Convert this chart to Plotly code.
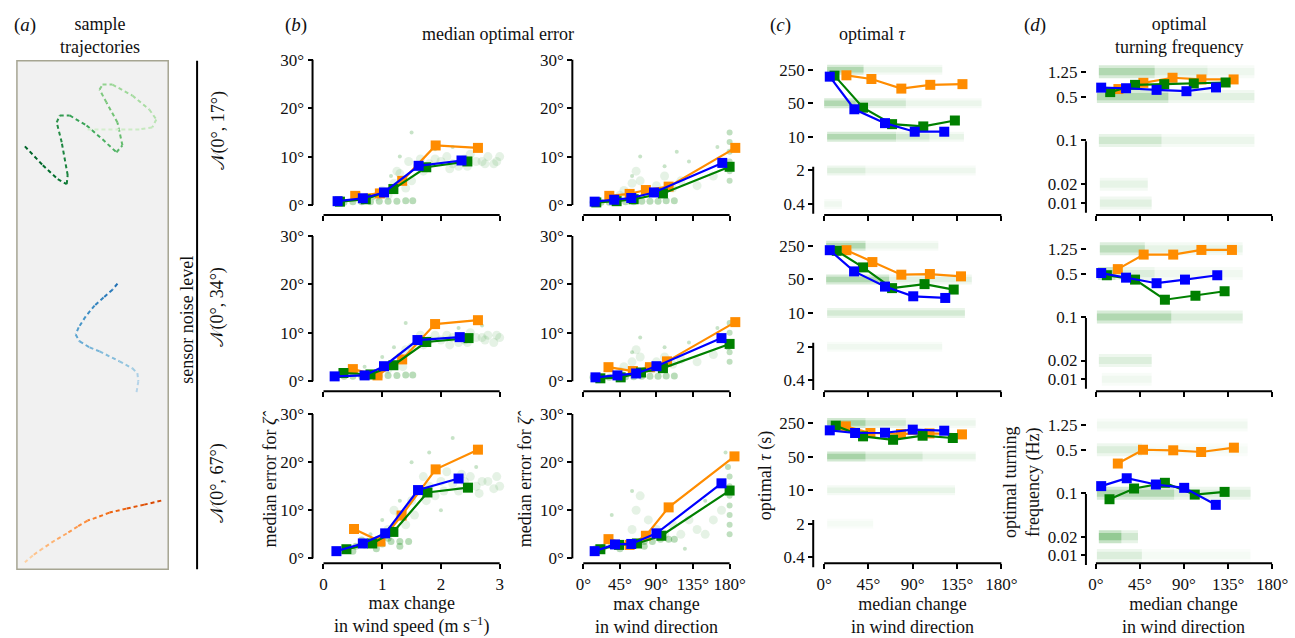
import math
import plotly.graph_objects as go
import plotly.colors as pc

W, H = 1295, 638
FONT = "Liberation Serif"
TXT = "#111111"
ORANGE, GREEN, BLUE = "#ff8c00", "#008000", "#0000ff"

# ---------------- data ----------------
# (b) left column: max change in wind speed (m/s) -> median error (deg); one list per noise row
speed_orange_x = [[0.54, 0.96, 1.34, 1.91, 2.63], [0.50, 0.92, 1.34, 1.90, 2.63], [0.52, 0.97, 1.33, 1.91, 2.63]]
speed_orange_y = [[1.9, 2.4, 5.0, 12.3, 11.8], [2.5, 1.2, 4.5, 11.8, 12.6], [6.1, 3.5, 8.9, 18.5, 22.6]]
speed_green_x = [[0.28, 0.72, 1.19, 1.75, 2.45], [0.34, 0.80, 1.19, 1.75, 2.47], [0.39, 0.83, 1.19, 1.77, 2.46]]
speed_green_y = [[0.7, 1.2, 3.3, 7.8, 9.0], [1.7, 1.4, 3.3, 8.1, 8.9], [1.9, 3.1, 5.5, 13.7, 14.7]]
speed_blue_x = [[0.24, 0.67, 1.03, 1.62, 2.35], [0.19, 0.70, 1.03, 1.60, 2.32], [0.22, 0.67, 1.05, 1.61, 2.30]]
speed_blue_y = [[0.8, 1.4, 2.6, 8.1, 9.2], [1.0, 1.2, 3.1, 8.5, 9.1], [1.5, 3.1, 5.2, 14.2, 16.6]]

# (b) right column: max change in wind direction (deg) -> median error (deg)
dir_orange_x = [[32, 57, 77, 105, 187], [31, 61, 82, 103, 187], [31, 57, 77, 105, 186]]
dir_orange_y = [[1.9, 2.3, 3.1, 3.8, 11.8], [2.9, 2.1, 2.9, 4.1, 12.2], [4.0, 2.8, 4.7, 10.6, 21.2]]
dir_green_x = [[16, 41, 62, 98, 180], [21, 46, 71, 98, 180], [21, 44, 66, 96, 180]]
dir_green_y = [[0.55, 0.8, 1.2, 2.4, 7.9], [0.6, 0.8, 1.8, 2.7, 7.7], [1.9, 2.8, 3.1, 4.7, 14.1]]
dir_blue_x = [[14, 38, 59, 87, 171], [15, 42, 65, 90, 170], [14, 39, 59, 90, 170]]
dir_blue_y = [[0.7, 1.1, 1.45, 2.6, 8.7], [0.8, 1.2, 1.6, 3.1, 8.9], [1.5, 2.9, 3.0, 5.2, 15.6]]

# (c) median change in wind direction (deg) -> optimal tau (s)
tau_orange_x = [[22.6, 48, 78.4, 107.8, 140.5], [22.6, 49, 78.4, 107.4, 139], [22, 47, 78, 107, 140]]
tau_orange_y = [[191, 160, 101, 121, 125], [203, 115, 62.8, 64.8, 58], [213, 155, 148, 152, 145]]
tau_green_x = [[10.5, 39.5, 69, 100.7, 132.8], [12.8, 39.5, 69, 102, 131.6], [11.8, 39.5, 70, 100, 130.7]]
tau_green_y = [[188, 40.5, 18.4, 16.5, 21.9], [197, 89, 33, 40, 30.8], [220, 132, 112, 136, 122]]
tau_blue_x = [[5.7, 30.7, 61.8, 92, 122], [5.7, 30.4, 61.8, 90.5, 123], [5.7, 31.4, 61.8, 90, 122]]
tau_blue_y = [[179, 37.5, 19.3, 12.8, 12.8], [203, 73.5, 35.5, 22.3, 20.6], [176, 155, 157, 182, 173]]

# (d) median change in wind direction (deg) -> optimal turning frequency (Hz)
freq_orange_x = [[23, 48.5, 78.3, 107.8, 140.7], [22.4, 48.8, 79, 107.8, 139], [22.4, 48.1, 79, 107.5, 141]]
freq_orange_y = [[0.66, 0.83, 1.0, 0.94, 0.94], [0.59, 1.01, 1.01, 1.2, 1.2], [0.30, 0.50, 0.49, 0.46, 0.54]]
freq_green_x = [[14.6, 40, 69.8, 100, 132.5], [11.2, 40, 70.5, 101.7, 131.5], [13.9, 39, 70.5, 101, 131.5]]
freq_green_y = [[0.59, 0.77, 0.79, 0.81, 0.84], [0.47, 0.40, 0.19, 0.22, 0.26], [0.080, 0.119, 0.147, 0.095, 0.105]]
freq_blue_x = [[5.4, 30.8, 62, 92.5, 122.7], [5.4, 30.8, 62, 91, 124], [5.4, 31.5, 61.3, 90.2, 122.5]]
freq_blue_y = [[0.695, 0.68, 0.64, 0.61, 0.70], [0.51, 0.43, 0.35, 0.40, 0.47], [0.13, 0.174, 0.138, 0.122, 0.065]]

# green clouds of individual runs in (b), read approximately: groups of (x, y)
speed_cloud = [
    {"dense": ([0.35, 0.5, 0.65, 0.8, 0.95, 1.1, 1.25, 1.4, 1.52], [0.6, 0.7, 0.7, 0.7, 0.8, 0.8, 0.8, 0.9, 0.9]),
     "diffuse": ([1.0, 1.1, 1.2, 1.3, 1.4, 1.5, 0.9, 1.25, 1.45, 1.6, 1.8, 2.0, 2.2, 2.4, 2.6, 2.8, 3.0, 1.7, 2.5, 2.9, 2.1, 2.3, 2.7,
                  1.9, 2.15, 2.45, 2.75, 2.95, 1.65, 1.35],
                 [3, 2, 4.5, 6.5, 3.5, 5, 1.8, 7, 9, 8, 8.5, 9, 8.5, 9.5, 9, 10, 10, 7, 10.5, 8.5, 10, 8, 9,
                  9.5, 7.5, 8, 8.5, 9, 9.5, 5]),
     "sparse": ([1.5, 1.3, 2.2, 0.6, 1.9, 1.15, 2.6, 0.85], [15, 10, 12, 2.5, 11.5, 6, 12, 1.5])},
    {"dense": ([0.35, 0.5, 0.65, 0.8, 0.95, 1.1, 1.25, 1.4, 1.52], [1.0, 1.0, 1.0, 1.1, 1.1, 1.2, 1.2, 1.3, 1.3]),
     "diffuse": ([1.1, 1.2, 1.3, 1.4, 1.5, 1.6, 1.8, 2.0, 2.2, 2.4, 2.6, 2.8, 3.0, 1.7, 2.5, 2.9, 2.1, 2.3, 2.7, 1.35,
                  1.9, 2.15, 2.45, 2.75, 2.95, 1.65],
                 [2.5, 3.5, 5, 6.5, 7, 8, 8.5, 8.5, 9, 8.5, 9, 9.5, 9, 7.5, 10, 8, 9.5, 8, 9, 3,
                  9.5, 7.5, 8, 8.5, 9.5, 9.5]),
     "sparse": ([1.4, 1.0, 2.3, 0.7, 1.2, 2.7], [12, 5, 11, 3, 7, 11.5])},
    {"dense": ([0.4, 0.55, 0.7, 0.85, 1.0, 1.15, 1.3, 1.45, 0.5, 0.9, 1.3, 0.65, 1.1],
               [2, 2.5, 2.8, 3, 3, 3.5, 3.5, 3.5, 1.5, 2, 2.5, 3.8, 4.2]),
     "diffuse": ([1.1, 1.3, 1.5, 1.6, 1.8, 2.0, 2.2, 2.4, 2.6, 2.8, 3.0, 1.7, 1.9, 2.1, 2.3, 2.5, 2.7, 2.9, 1.4, 1.2,
                  1.75, 2.05, 2.35, 2.65, 2.95, 1.55],
                 [6, 9, 12, 14, 15, 16, 15.5, 16, 15, 16, 15, 17, 13, 18, 14, 17, 16, 14.5, 7, 10,
                  12, 14, 17.5, 13.5, 17, 9]),
     "sparse": ([1.0, 1.5, 2.2, 2.0, 1.8, 0.8, 2.6, 1.3], [8, 20, 25, 10, 22, 5, 19, 12])},
]
dir_cloud = [
    {"dense": ([12, 22, 32, 42, 52, 62, 72, 82, 92, 102, 112], [0.6, 0.6, 0.6, 0.7, 0.7, 0.7, 0.8, 0.8, 0.8, 0.9, 0.9]),
     "diffuse": ([50, 60, 70, 80, 90, 100, 110, 120, 140, 160, 65, 85, 45, 95], [3, 4.5, 5, 3, 4, 6, 3.5, 5, 4, 6, 7, 2.5, 2, 2.5]),
     "column": ([180, 180, 180, 180, 180, 178, 180], [5, 7, 9, 11, 13, 8, 15]),
     "sparse": ([70, 130, 165, 60, 100, 115], [10, 9, 12, 6, 8, 11])},
    {"dense": ([12, 22, 32, 42, 52, 62, 72, 82, 92, 102, 112], [0.8, 0.8, 0.8, 0.9, 0.9, 0.9, 1.0, 1.0, 1.0, 1.1, 1.1]),
     "diffuse": ([50, 60, 70, 80, 90, 100, 110, 120, 140, 160, 65, 85, 45, 95], [3, 4, 5, 3, 4, 5, 3.5, 4.5, 4, 5.5, 6.5, 2.5, 2, 2.5]),
     "column": ([180, 180, 180, 180, 180, 178], [4, 6, 8, 10, 12, 7]),
     "sparse": ([70, 130, 165, 60, 100], [9, 8, 11, 6, 7])},
    {"dense": ([15, 25, 35, 45, 55, 65, 75, 85, 95, 105, 112, 45, 75],
               [2, 2.3, 2.6, 3, 3, 3.3, 3.5, 3.5, 4, 4, 4, 2, 2.5]),
     "diffuse": ([60, 65, 70, 80, 90, 110, 120, 140, 160, 170, 100, 130, 150], [6, 10, 13, 8, 6, 7, 5, 6, 8, 10, 5, 8, 5]),
     "column": ([180, 180, 180, 180, 180, 180, 180, 178], [5, 7, 9, 11, 13, 15, 17, 19]),
     "sparse": ([60, 150, 35, 125, 175], [14, 12, 9, 2, 22])},
]
CLOUD_STYLE = {"dense": (7, 0.28), "diffuse": (9, 0.10), "column": (6, 0.25), "sparse": (4, 0.22)}

# green bands of individual runs in (c) and (d): (level, x from, x to, density)
tau_bands = [
    [(250, 3, 40, .35), (250, 40, 120, .10), (50, 0, 32, .35), (50, 32, 83, .20), (50, 83, 160, .08),
     (10, 3, 73, .35), (10, 73, 107, .20), (10, 107, 142, .10), (2, 3, 42, .15), (2, 42, 154, .07), (0.4, 0, 18, .06)],
    [(250, 2, 42, .35), (250, 42, 116, .08), (50, 2, 66, .35), (50, 66, 150, .12),
     (10, 3, 143, .18), (2, 3, 120, .06)],
    [(250, 3, 42, .40), (250, 42, 83, .20), (250, 83, 154, .08), (50, 3, 42, .40), (50, 42, 100, .20),
     (50, 100, 154, .10), (10, 3, 133, .10), (2, 3, 50, .04)],
]
freq_bands = [
    [(1.25, 3, 60, .35), (1.25, 60, 114, .15), (1.25, 114, 162, .07), (0.5, 1, 74, .35), (0.5, 74, 162, .12),
     (0.1, 3, 67, .20), (0.1, 67, 162, .08), (0.02, 4, 53, .10), (0.01, 4, 57, .12)],
    [(1.25, 4, 50, .30), (1.25, 50, 150, .10), (0.5, 2, 20, .45), (0.5, 20, 60, .15), (0.5, 60, 150, .06),
     (0.1, 1, 77, .35), (0.1, 77, 150, .15), (0.02, 3, 57, .15), (0.01, 6, 57, .06)],
    [(1.25, 1, 155, .06), (0.5, 1, 47, .15), (0.5, 47, 155, .04), (0.1, 1, 80, .35), (0.1, 80, 158, .15),
     (0.02, 3, 26, .50), (0.02, 26, 43, .20), (0.01, 1, 47, .15), (0.01, 47, 158, .04)],
]

# (a) sample trajectories (arbitrary planar units)
traj_green_x = [25, 43, 58, 67, 68, 62, 57, 60, 70, 87, 103, 117, 123, 118, 107, 100, 103, 113, 133, 150, 157, 153, 140, 120, 88]
traj_green_y = [144, 163, 177, 182, 173, 140, 120, 113, 113, 123, 137, 150, 143, 120, 100, 87, 82, 82, 93, 107, 117, 125, 127, 127, 127]
traj_blue_x = [118, 113, 104, 95, 86, 79, 76, 80, 90, 100, 120, 133, 138, 139, 137]
traj_blue_y = [282, 288, 296, 304, 315, 326, 333, 340, 346, 350, 360, 367, 372, 380, 392]
traj_orange_x = [162, 145, 127, 110, 97, 88, 78, 67, 55, 43, 33, 25]
traj_orange_y = [500, 504, 508, 512, 517, 520, 526, 533, 540, 548, 555, 562]

deg_ticks = [0, 45, 90, 135, 180]
deg_ticktext = ["0°", "45°", "90°", "135°", "180°"]
err_ticks = [0, 10, 20, 30]
err_ticktext = ["0°", "10°", "20°", "30°"]
speed_ticks = [0, 1, 2, 3]
tau_ticks = [0.4, 2, 10, 50, 250]
tau_ticktext = ["0.4", "2", "10", "50", "250"]
freq_ticks = [0.01, 0.02, 0.1, 0.5, 1.25]
freq_ticktext = ["0.01", "0.02", "0.1", "0.5", "1.25"]
row_labels = ["𝒩(0°, 17°)", "𝒩(0°, 34°)", "𝒩(0°, 67°)"]

# ---------------- layout geometry (pixels) ----------------
COLS = [  # pixel of first/last tick along x, padded range, pixel x of y-axis line
    dict(p0=325, v0=0, p1=502, v1=3, rng=(-0.2, 3.2), ypos=314),
    dict(p0=586, v0=0, p1=733, v1=180, rng=(-10, 196), ypos=575),
    dict(p0=828, v0=0, p1=1006, v1=180, rng=(-8, 190), ypos=817),
    dict(p0=1101, v0=0, p1=1278, v1=180, rng=(-8, 190), ypos=1091),
]
B_ROWS = [(203, 57), (380, 234), (558, 413)]      # pixel of 0 deg, 30 deg
C_ROWS = [(202, 67), (379, 244), (557, 422)]      # pixel of 0.4, 250
D_ROWS = [(201, 69), (378, 247), (555, 424)]      # pixel of 0.01, 1.25
XAX_Y = [213, 390, 563]


def lin(pa, va, pb, vb):
    k = (pb - pa) / (vb - va)
    return lambda v: pa + (v - va) * k


L = math.log10
fig = go.Figure()
layout = {}
shapes = []
annotations = []
tickfont = dict(family=FONT, size=17, color=TXT)


def ax_name(k, a):
    return f"{a}axis" if k == 1 else f"{a}axis{k}"


def ref(k, a):
    return a if k == 1 else f"{a}{k}"


for r in range(3):
    for c in range(4):
        k = r * 4 + c + 1
        cc = COLS[c]
        fx = lin(cc["p0"], cc["v0"], cc["p1"], cc["v1"])
        xdom = [fx(cc["rng"][0]) / W, fx(cc["rng"][1]) / W]
        if c < 2:
            pa, pb = B_ROWS[r]
            fy = lin(pa, 0, pb, 30)
            yr = (-2, 32)
            ytype = "linear"
            ytv, ytt = err_ticks, err_ticktext
            ybounds = (0, 30)
        elif c == 2:
            pa, pb = C_ROWS[r]
            fy = lin(pa, L(0.4), pb, L(250))
            yr = (L(0.25), L(340))
            ytype = "log"
            ytv, ytt = tau_ticks, tau_ticktext
            ybounds = (L(0.4), L(250))
        else:
            pa, pb = D_ROWS[r]
            fy = lin(pa, L(0.01), pb, L(1.25))
            yr = (L(0.007), L(1.7))
            ytype = "log"
            ytv, ytt = freq_ticks, freq_ticktext
            ybounds = (L(0.01), L(1.25))
        ydom = [1 - fy(yr[0]) / H, 1 - fy(yr[1]) / H]
        if c == 0:
            xtv, xtt = speed_ticks, [str(v) for v in speed_ticks]
        else:
            xtv, xtt = deg_ticks, deg_ticktext
        layout[ax_name(k, "x")] = dict(
            domain=xdom, range=list(cc["rng"]), anchor="free", position=1 - XAX_Y[r] / H,
            showline=False, showgrid=False, zeroline=False, ticks="outside", ticklen=5, tickwidth=1.6,
            tickcolor="black", tickvals=xtv, ticktext=xtt, showticklabels=(r == 2), tickfont=tickfont)
        layout[ax_name(k, "y")] = dict(
            domain=ydom, range=list(yr), type=ytype, anchor="free", position=cc["ypos"] / W,
            showline=False, showgrid=False, zeroline=False, ticks="outside", ticklen=5, tickwidth=1.6,
            tickcolor="black", tickvals=ytv, ticktext=ytt, tickfont=tickfont)
        # spines bounded to the tick range (matplotlib style)
        shapes.append(dict(type="line", xref="paper", yref=ref(k, "y"), x0=cc["ypos"] / W, x1=cc["ypos"] / W,
                           y0=ybounds[0], y1=ybounds[1], line=dict(color="black", width=2)))
        shapes.append(dict(type="line", xref=ref(k, "x"), yref="paper", x0=cc["v0"], x1=cc["v1"],
                           y0=1 - XAX_Y[r] / H, y1=1 - XAX_Y[r] / H, line=dict(color="black", width=2)))

        xa, ya = ref(k, "x"), ref(k, "y")
        # clouds
        if c < 2:
            groups = (speed_cloud if c == 0 else dir_cloud)[r]
            for g, (gx, gy) in groups.items():
                sz, al = CLOUD_STYLE[g]
                fig.add_trace(go.Scatter(x=gx, y=gy, xaxis=xa, yaxis=ya, mode="markers", hoverinfo="skip",
                                         marker=dict(size=sz, color=f"rgba(0,128,0,{al})", line=dict(width=0)),
                                         showlegend=False, cliponaxis=False))
        else:
            bands = (tau_bands if c == 2 else freq_bands)[r]
            bw = 10 if c == 2 else 13
            for lvl, x0, x1, dens in bands:
                # soft-edged band: wide faint stroke + narrow core stroke
                for wmul, amul in ((1.0, 0.45), (0.55, 0.5)):
                    fig.add_trace(go.Scatter(x=[x0, x1], y=[lvl, lvl], xaxis=xa, yaxis=ya, mode="lines",
                                             hoverinfo="skip", showlegend=False,
                                             line=dict(color=f"rgba(0,128,0,{dens * amul:.3f})", width=bw * wmul)))
        # median lines
        if c == 0:
            series = [(speed_orange_x, speed_orange_y, ORANGE), (speed_green_x, speed_green_y, GREEN),
                      (speed_blue_x, speed_blue_y, BLUE)]
        elif c == 1:
            series = [(dir_orange_x, dir_orange_y, ORANGE), (dir_green_x, dir_green_y, GREEN),
                      (dir_blue_x, dir_blue_y, BLUE)]
        elif c == 2:
            series = [(tau_orange_x, tau_orange_y, ORANGE), (tau_green_x, tau_green_y, GREEN),
                      (tau_blue_x, tau_blue_y, BLUE)]
        else:
            series = [(freq_orange_x, freq_orange_y, ORANGE), (freq_green_x, freq_green_y, GREEN),
                      (freq_blue_x, freq_blue_y, BLUE)]
        for sx, sy, col in series:
            fig.add_trace(go.Scatter(x=sx[r], y=sy[r], xaxis=xa, yaxis=ya, mode="lines+markers",
                                     line=dict(color=col, width=2.2), showlegend=False, cliponaxis=False,
                                     marker=dict(symbol="square", size=10, color=col, line=dict(width=0))))

# ---- panel (a) ----
KA = 13
layout[ax_name(KA, "x")] = dict(domain=[17 / W, 169 / W], range=[17, 169], visible=False, anchor=ref(KA, "y"))
layout[ax_name(KA, "y")] = dict(domain=[1 - 569 / H, 1 - 58 / H], range=[569, 58], visible=False, anchor=ref(KA, "x"))
shapes.insert(0, dict(type="rect", xref="paper", yref="paper", x0=17 / W, x1=169 / W, y0=1 - 569 / H, y1=1 - 58 / H,
                      fillcolor="#f1f1f1", line=dict(color="#a6a592", width=1.5), layer="below"))


def add_traj(tx, ty, scale, lo, hi):
    n = len(tx) - 1
    cols = pc.sample_colorscale(scale, [hi - (hi - lo) * i / max(n - 1, 1) for i in range(n)])
    for i in range(n):
        fig.add_trace(go.Scatter(x=tx[i:i + 2], y=ty[i:i + 2], xaxis=ref(KA, "x"), yaxis=ref(KA, "y"),
                                 mode="lines", hoverinfo="skip", showlegend=False,
                                 line=dict(color=cols[i], width=2, dash="4px,3px")))


add_traj(traj_green_x, traj_green_y, "Greens", 0.2, 0.9)
add_traj(traj_blue_x, traj_blue_y, "Blues", 0.3, 0.75)
add_traj(traj_orange_x, traj_orange_y, "Oranges", 0.25, 0.75)

# separator line
shapes.append(dict(type="line", xref="paper", yref="paper", x0=198 / W, x1=198 / W, y0=1 - 569 / H, y1=1 - 58 / H,
                   line=dict(color="black", width=2)))


def ann(text, xp, yp, size=18, angle=0, xanchor="center", yanchor="middle"):
    annotations.append(dict(text=text, x=xp / W, y=1 - yp / H, xref="paper", yref="paper", showarrow=False,
                            textangle=angle, xanchor=xanchor, yanchor=yanchor,
                            font=dict(family=FONT, size=size, color=TXT)))


ann("(<i>a</i>)", 25, 22, size=19)
ann("sample<br>trajectories", 100, 33)
ann("(<i>b</i>)", 297, 22, size=19)
ann("median optimal error", 500, 31)
ann("(<i>c</i>)", 784, 22, size=19)
ann("optimal <i>τ</i>", 877, 31)
ann("(<i>d</i>)", 1040, 22, size=19)
ann("optimal<br>turning frequency", 1184, 33)
ann("sensor noise level", 187, 318, angle=-90)
for r, yp in enumerate([128, 305, 482]):
    ann(row_labels[r], 219, yp, angle=-90)

ann("median error for <i>ζ\u0302</i>", 271, 478, angle=-90)
ann("median error for <i>ζ\u0302</i>", 527, 478, angle=-90)
ann("optimal <i>τ</i> (s)", 769, 475, angle=-90)
ann("optimal turning<br>frequency (Hz)", 1026, 481, angle=-90)

ann("max change<br>in wind speed (m s<sup>−1</sup>)", 413, 615)
ann("max change<br>in wind direction", 660, 615)
ann("median change<br>in wind direction", 917, 615)
ann("median change<br>in wind direction", 1189, 615)

layout.update(dict(width=W, height=H, margin=dict(l=0, r=0, t=0, b=0), paper_bgcolor="white",
                   plot_bgcolor="rgba(0,0,0,0)", shapes=shapes, annotations=annotations, showlegend=False,
                   font=dict(family=FONT, color=TXT)))
fig.update_layout(**layout)
fig.write_html("out.html", config={"displayModeBar": False},
               post_script="document.body.style.margin='0px';document.body.style.padding='0px';"
                           "document.documentElement.style.overflow='hidden';")
